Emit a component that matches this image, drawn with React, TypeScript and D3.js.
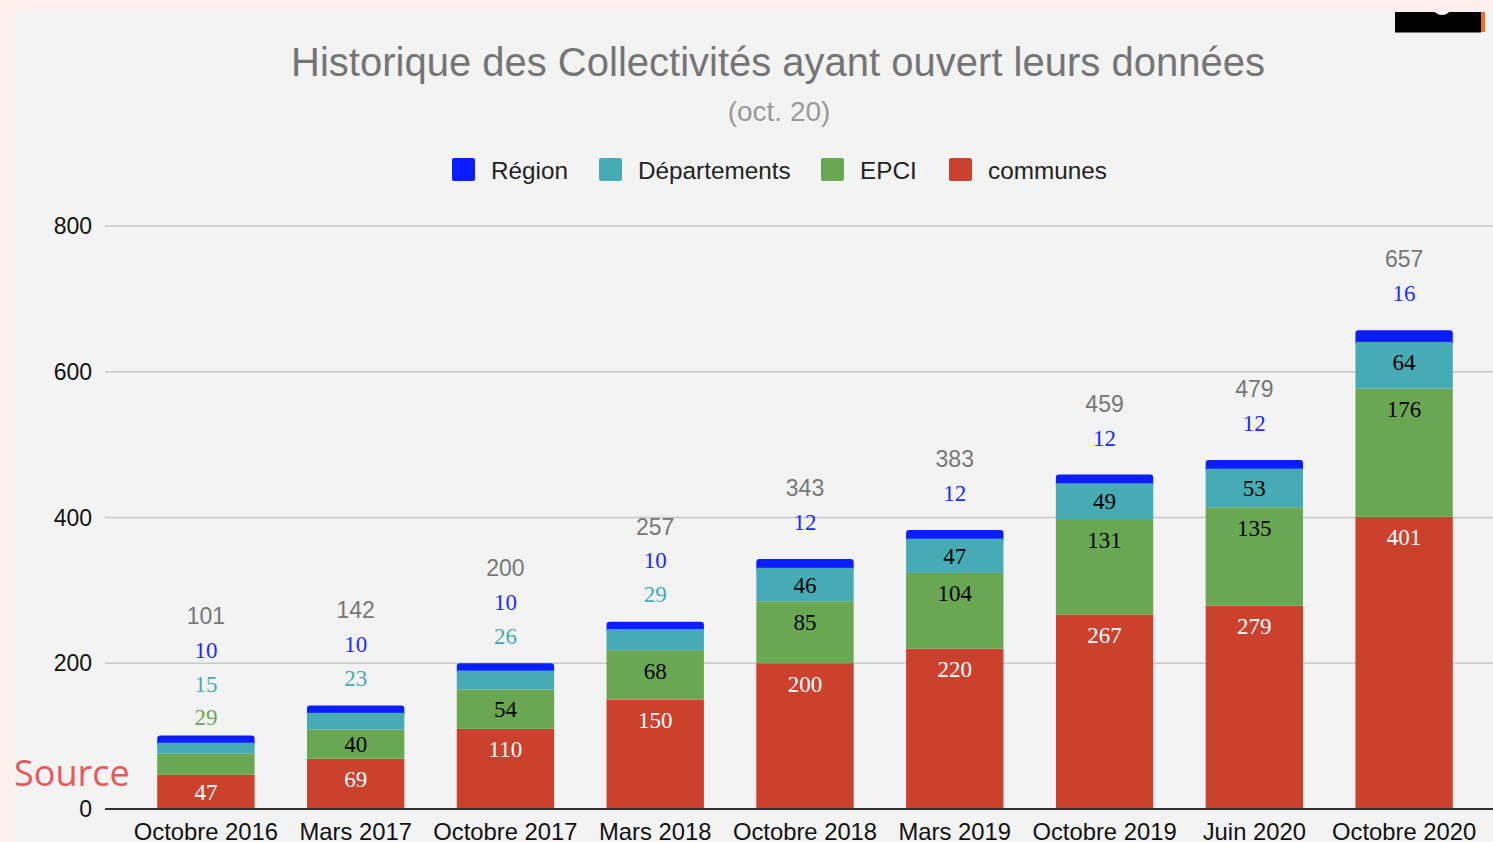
import React from "react";
import * as d3 from "d3";

const categories = ["Octobre 2016", "Mars 2017", "Octobre 2017", "Mars 2018", "Octobre 2018", "Mars 2019", "Octobre 2019", "Juin 2020", "Octobre 2020"];
const communes = [47, 69, 110, 150, 200, 220, 267, 279, 401];
const epci = [29, 40, 54, 68, 85, 104, 131, 135, 176];
const departements = [15, 23, 26, 29, 46, 47, 49, 53, 64];
const region = [10, 10, 10, 10, 12, 12, 12, 12, 16];
const totals = [101, 142, 200, 257, 343, 383, 459, 479, 657];
const yTicks = [0, 200, 400, 600, 800];

const seriesKeys = ["communes", "EPCI", "Départements", "Région"];
const seriesColors: Record<string, string> = {
  communes: "#cc412e",
  EPCI: "#6aa753",
  "Départements": "#47abb6",
  "Région": "#0c1dff",
};
const insideTextColor: Record<string, string> = {
  communes: "#ffffff",
  EPCI: "#000000",
  "Départements": "#000000",
  "Région": "#000000",
};
const outsideTextColor: Record<string, string> = {
  communes: "#cc412e",
  EPCI: "#6aa753",
  "Départements": "#47abb6",
  "Région": "#1a2bff",
};
const legendItems = ["Région", "Départements", "EPCI", "communes"];
const legendX = [452, 599, 821, 949];

export default function App() {
  const W = 1493, H = 842;
  const rows = categories.map((c, i) => ({
    cat: c,
    communes: communes[i],
    EPCI: epci[i],
    "Départements": departements[i],
    "Région": region[i],
  }));
  const stack = d3.stack<any>().keys(seriesKeys)(rows);
  const x = d3.scaleBand<string>().domain(categories).range([131, 1479]).paddingInner(0.35).paddingOuter(0.175);
  const y = d3.scaleLinear().domain([0, 800]).range([809, 226]);
  const bw = x.bandwidth();
  const sans = "Arial, 'Liberation Sans', sans-serif";
  const serif = "'Liberation Serif', 'Times New Roman', serif";

  const bars: any[] = [];
  const labels: any[] = [];
  categories.forEach((c, i) => {
    const x0 = x(c)!;
    const cx = x0 + bw / 2;
    const outside: { key: string; v: number }[] = [];
    const order = ["Région", "communes", "EPCI", "Départements"];
    order.forEach((key) => {
      const layer = stack.find((s) => s.key === key)!;
      const d = layer[i];
      const top = y(d[1]);
      const bot = y(d[0]);
      if (key === "Région") {
        bars.push(<rect key={key + i} x={x0} y={top} width={bw} height={bot - top + 4} rx={3} ry={3} fill={seriesColors[key]} />);
      } else {
        bars.push(<rect key={key + i} x={x0} y={top} width={bw} height={bot - top} fill={seriesColors[key]} />);
      }
    });
    seriesKeys.forEach((key) => {
      const layer = stack.find((s) => s.key === key)!;
      const d = layer[i];
      const top = y(d[1]);
      const bot = y(d[0]);
      const h = bot - top;
      const v = d[1] - d[0];
      if (h >= 25) {
        const cy = top + Math.min(20.5, h / 2);
        labels.push(
          <text key={"l" + key + i} x={cx} y={cy} dy="0.35em" textAnchor="middle" fontFamily={serif} fontSize={23} fill={insideTextColor[key]}>{v}</text>
        );
      } else {
        outside.push({ key, v });
      }
    });
    const barTop = y(totals[i]);
    const k = outside.length;
    const lowest = barTop - (46.5 - 9.5 * k);
    const spacing = 33.8;
    outside.forEach((o, j) => {
      labels.push(
        <text key={"o" + o.key + i} x={cx} y={lowest - j * spacing} dy="0.35em" textAnchor="middle" fontFamily={serif} fontSize={23} fill={outsideTextColor[o.key]}>{o.v}</text>
      );
    });
    labels.push(
      <text key={"t" + i} x={cx} y={lowest - k * spacing} dy="0.35em" textAnchor="middle" fontFamily={sans} fontSize={23} fill="#777777">{totals[i]}</text>
    );
  });

  return (
    <svg width={W} height={H} style={{ position: "absolute", left: 0, top: 0 }}>
      <rect x={0} y={0} width={W} height={H} fill="#fdefeb" />
      <rect x={14} y={12} width={W - 14} height={H - 12} fill="#f3f3f3" />
      <defs>
        <clipPath id="badge">
          <rect x={1395} y={12} width={86} height={20} />
        </clipPath>
      </defs>
      <rect x={1395} y={12} width={86} height={20} fill="#000" />
      <ellipse cx={1442} cy={7} rx={9} ry={8} fill="#fff" clipPath="url(#badge)" />
      <rect x={1481} y={12} width={4} height={20} fill="#f07020" />
      <line x1={1395} x2={1481} y1={32.5} y2={32.5} stroke="#777" strokeWidth={1} />

      <text x={778} y={62} dy="0.35em" textAnchor="middle" fontFamily={sans} fontSize={40} fill="#757575">Historique des Collectivités ayant ouvert leurs données</text>
      <text x={779} y={111} dy="0.35em" textAnchor="middle" fontFamily={sans} fontSize={28} fill="#999999">(oct. 20)</text>

      {legendItems.map((k, i) => (
        <g key={k}>
          <rect x={legendX[i]} y={158} width={23} height={23} rx={2} fill={seriesColors[k]} />
          <text x={legendX[i] + 39} y={170} dy="0.35em" fontFamily={sans} fontSize={24.3} fill="#222">{k}</text>
        </g>
      ))}

      {yTicks.map((t) => (
        <g key={t}>
          {t !== 0 && <line x1={105} x2={W} y1={y(t)} y2={y(t)} stroke="#c8c8c8" strokeWidth={1.5} />}
          <text x={92} y={y(t)} dy="0.35em" textAnchor="end" fontFamily={sans} fontSize={23} fill="#111">{t}</text>
        </g>
      ))}

      {bars}
      <line x1={105} x2={W} y1={y(0)} y2={y(0)} stroke="#333" strokeWidth={2} />
      {labels}

      {categories.map((c) => (
        <text key={c} x={x(c)! + bw / 2} y={832} dy="0.35em" textAnchor="middle" fontFamily={sans} fontSize={23.8} fill="#111">{c}</text>
      ))}

      <text x={14} y={773} dy="0.35em" fontFamily="'Open Sans', sans-serif" fontSize={36} fill="#e8585a">Source</text>
    </svg>
  );
}
